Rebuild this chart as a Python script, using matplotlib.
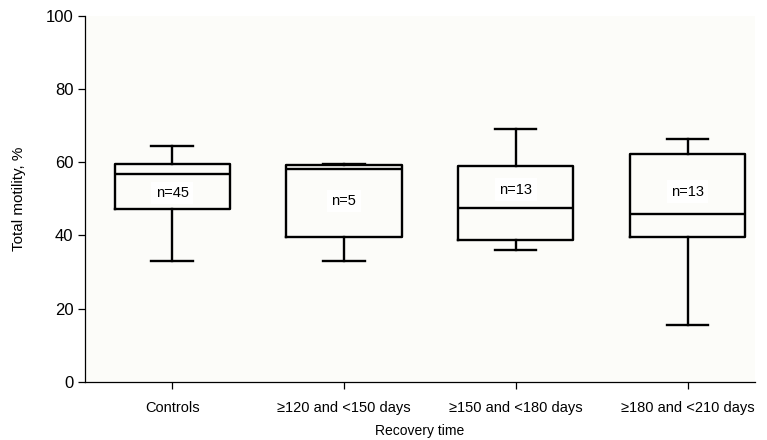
import matplotlib.pyplot as plt
import numpy as np

plt.rcParams.update({
    'font.family': ['Liberation Sans', 'DejaVu Sans'],
    'font.size': 10,
    'axes.linewidth': 0.9,
})

# Box summary values (%)
groups = ['Controls', '\u2265120 and <150 days', '\u2265150 and <180 days', '\u2265180 and <210 days']
counts = ['n=45', 'n=5', 'n=13', 'n=13']
whisker_low = [33.0, 33.0, 36.1, 15.6]
q1 = [47.3, 39.6, 38.8, 39.6]
median = [56.8, 58.2, 47.5, 45.9]
q3 = [59.6, 59.3, 59.0, 62.3]
whisker_high = [64.5, 59.6, 69.1, 66.4]
label_y = [51.6, 49.4, 52.5, 52.0]

stats = []
for i in range(len(groups)):
    stats.append({'whislo': whisker_low[i], 'q1': q1[i], 'med': median[i],
                  'q3': q3[i], 'whishi': whisker_high[i], 'fliers': []})

fig = plt.figure(figsize=(7.67, 4.4), dpi=100)
ax = fig.add_axes([0.111, 0.132, 0.873, 0.832])
ax.set_facecolor('#fcfcf9')

pos = np.arange(len(groups))
lw = 1.7
ax.bxp(stats, positions=pos, widths=0.67, capwidths=0.24, showfliers=False,
       boxprops=dict(color='black', linewidth=lw),
       whiskerprops=dict(color='black', linewidth=lw),
       capprops=dict(color='black', linewidth=lw),
       medianprops=dict(color='black', linewidth=lw))

for p, c, yv in zip(pos, counts, label_y):
    ax.text(p, yv, c, ha='center', va='center', fontsize=10.5,
            bbox=dict(facecolor='white', edgecolor='none', pad=3))

ax.set_xlim(-0.506, 3.39)
ax.set_ylim(0, 100)
ax.set_yticks([0, 20, 40, 60, 80, 100])
ax.set_xticks(pos)
ax.set_xticklabels(groups, fontsize=10.5)
ax.tick_params(axis='y', labelsize=12, length=5, width=0.9)
ax.tick_params(axis='x', length=5, width=0.9, pad=9)
ax.set_ylabel('Total motility, %', fontsize=11, labelpad=14)
ax.set_xlabel('Recovery time', fontsize=10, labelpad=6)
ax.spines['top'].set_visible(False)
ax.spines['right'].set_visible(False)

fig.savefig('out.png', dpi=100)
